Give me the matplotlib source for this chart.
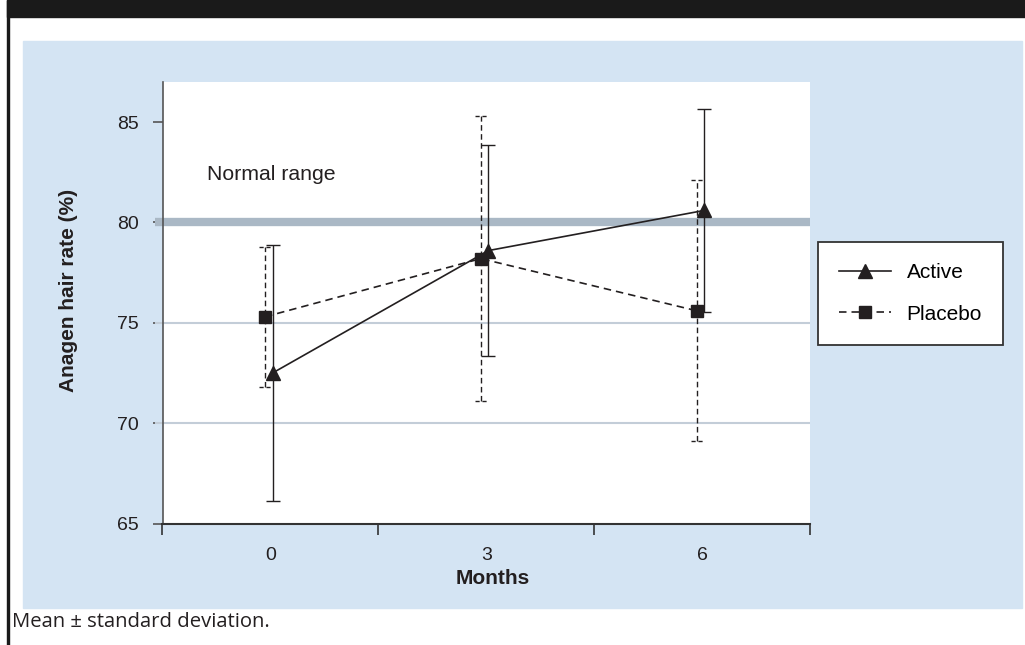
import numpy as np
import matplotlib
matplotlib.use("Agg")
import matplotlib.pyplot as plt
from matplotlib.patches import Rectangle

# data (mean and standard deviation)
months = ["0", "3", "6"]
active_mean = [72.5, 78.6, 80.6]
active_sd = [6.4, 5.25, 5.05]
placebo_mean = [75.3, 78.2, 75.6]
placebo_sd = [3.5, 7.1, 6.5]
normal_level = 80
grid_levels = [70, 75]

plt.rcParams['font.family'] = ['Liberation Sans', 'DejaVu Sans']

W, H = 1025, 645
fig = plt.figure(figsize=(W / 100, H / 100), dpi=100)

# frame: black header bar, left rule, light blue panel
fig.patches.append(Rectangle((7 / W, 1 - 17 / H), 1 - 7 / W, 17 / H,
                             transform=fig.transFigure, color='#1a1a1a', zorder=-10))
fig.patches.append(Rectangle((7 / W, 0), 2 / W, 1, transform=fig.transFigure,
                             color='#1a1a1a', zorder=-10))
fig.patches.append(Rectangle((23 / W, 1 - 608 / H), 999 / W, 567 / H,
                             transform=fig.transFigure, color='#d4e4f3', zorder=-10))

ax = fig.add_axes([162.5 / W, 1 - 523.5 / H, 647.5 / W, 441.5 / H])
ax.set_facecolor('white')
ax.set_axisbelow(True)

x = np.arange(len(months))
xa = x + 0.01
xp = x - 0.025
ink = '#231f20'

# reference lines
for g in grid_levels:
    ax.axhline(g, xmin=-0.011, xmax=1, color='#c3cdd8', lw=1.5, zorder=1,
               clip_on=False, solid_capstyle='butt')
ax.axhline(normal_level, xmin=-0.011, xmax=1, color='#aab8c5', lw=6, zorder=1,
           clip_on=False, solid_capstyle='butt')

# active: solid
ax.errorbar(xa, active_mean, yerr=active_sd, fmt='none', ecolor=ink,
            elinewidth=1.0, capsize=5, capthick=1.0, zorder=3)
ax.plot(xa, active_mean, color=ink, lw=1.2, marker='^', ms=10,
        label='Active', zorder=4)

# placebo: dashed, caps drawn as short dashed lines
eb = ax.errorbar(xp, placebo_mean, yerr=placebo_sd, fmt='none', ecolor=ink,
                 elinewidth=1.0, capsize=0, zorder=3)
eb.lines[2][0].set_linestyle((0, (4, 2.5)))
lo = np.array(placebo_mean) - np.array(placebo_sd)
hi = np.array(placebo_mean) + np.array(placebo_sd)
ax.hlines(np.r_[lo, hi], np.r_[xp, xp] - 0.027, np.r_[xp, xp] + 0.027,
          colors=ink, lw=1.0, linestyles=(0, (3, 2)), zorder=3)
ax.plot(xp, placebo_mean, color=ink, lw=1.2, ls=(0, (4.5, 3)), marker='s', ms=8.5,
        label='Placebo', zorder=4)

ax.text(-0.294, 82.4, 'Normal range', fontsize=15.3, color='#231f20',
        ha='left', va='center')

ax.set_xlim(-0.5, 2.5)
ax.set_ylim(65, 87)
ax.set_yticks([65, 70, 75, 80, 85])
ax.tick_params(axis='y', direction='out', length=7, width=1.2, color='#555555',
               labelsize=14, labelcolor='#231f20', pad=10)
ax.set_xticks([-0.5, 0.5, 1.5, 2.5])
ax.set_xticklabels([])
ax.set_xticks(x, minor=True)
ax.set_xticklabels(months, minor=True)
ax.tick_params(axis='x', which='major', direction='out', length=8, width=1.2,
               color='#333333')
ax.tick_params(axis='x', which='minor', length=0, labelsize=14,
               labelcolor='#231f20', pad=17)

for s in ['top', 'right']:
    ax.spines[s].set_visible(False)
ax.spines['left'].set_color('#555555')
ax.spines['left'].set_linewidth(1.2)
ax.spines['bottom'].set_color('#333333')
ax.spines['bottom'].set_linewidth(1.5)

fig.text(69 / W, 1 - 290 / H, 'Anagen hair rate (%)', rotation=90, fontsize=15,
         fontweight='bold', color='#231f20', ha='center', va='center')
fig.text(493 / W, 1 - 578 / H, 'Months', fontsize=15, fontweight='bold',
         color='#231f20', ha='center', va='center')

leg = ax.legend(loc='upper left', bbox_to_anchor=(818 / W, 1 - 242 / H),
                bbox_transform=fig.transFigure, borderaxespad=0, fontsize=15,
                fancybox=False, framealpha=1, edgecolor='#333333',
                handlelength=2.5, handletextpad=0.75, labelspacing=1.1,
                borderpad=1.0)
leg.get_frame().set_linewidth(1.3)

fig.text(12 / W, 1 - 622 / H, 'Mean \u00b1 standard deviation.', fontsize=14.6,
         family=['Open Sans', 'DejaVu Sans'], color='#231f20', ha='left', va='center')

fig.savefig('out.png', dpi=100)
